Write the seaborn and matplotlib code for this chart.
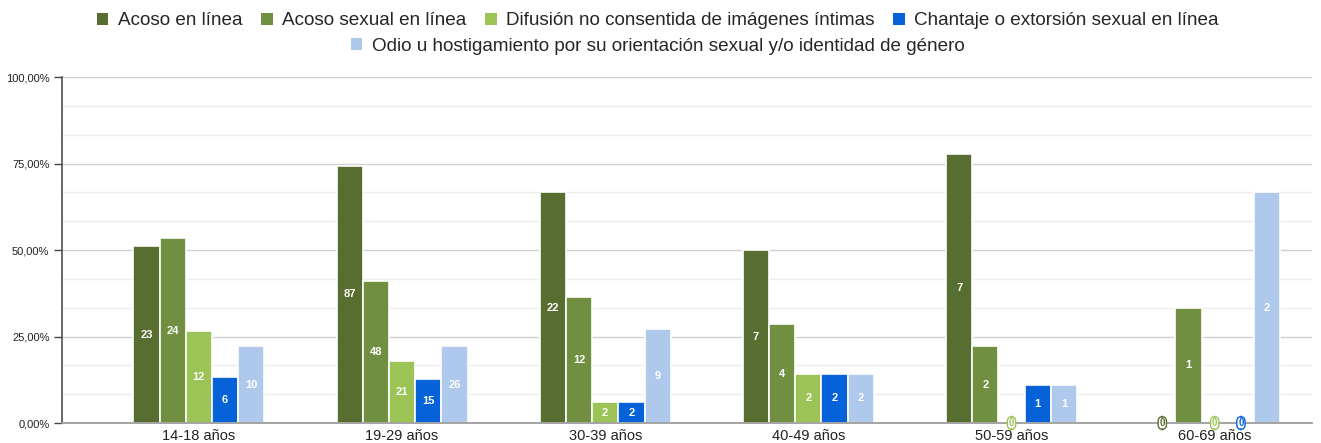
import matplotlib
matplotlib.use("Agg")
import matplotlib.pyplot as plt
from matplotlib.ticker import FuncFormatter, MultipleLocator
from matplotlib.patches import Patch
import pandas as pd
import seaborn as sns

grupos = ["14-18 años", "19-29 años", "30-39 años", "40-49 años", "50-59 años", "60-69 años"]
totales = [45, 117, 33, 14, 9, 3]
tipos = [
    "Acoso en línea",
    "Acoso sexual en línea",
    "Difusión no consentida de imágenes íntimas",
    "Chantaje o extorsión sexual en línea",
    "Odio u hostigamiento por su orientación sexual y/o identidad de género",
]
acoso = [23, 87, 22, 7, 7, 0]
acoso_sexual = [24, 48, 12, 4, 2, 1]
difusion = [12, 21, 2, 2, 0, 0]
chantaje = [6, 15, 2, 2, 1, 0]
odio = [10, 26, 9, 2, 1, 2]
colores = ["#586e31", "#718f40", "#9bc356", "#0562d8", "#aec9eb"]

series = [acoso, acoso_sexual, difusion, chantaje, odio]
rows = []
for tipo, vals in zip(tipos, series):
    for g, n, tot in zip(grupos, vals, totales):
        rows.append({"grupo": g, "tipo": tipo, "n": n, "pct": n / tot})
df = pd.DataFrame(rows)

sns.set_theme(style="white")
plt.rcParams["font.family"] = ["Liberation Sans", "DejaVu Sans"]

fig = plt.figure(figsize=(13.21, 4.43), dpi=100)
ax = fig.add_axes([0.0469, 0.0451, 0.946, 0.781])

sns.barplot(data=df, x="grupo", y="pct", hue="tipo", palette=colores, saturation=1,
            width=0.645, edgecolor="white", linewidth=1.2, legend=False, ax=ax)

# etiquetas de conteo
for cont, tipo, col in zip(ax.containers, tipos, colores):
    for bar, n in zip(cont, df[df.tipo == tipo]["n"]):
        x = bar.get_x() + bar.get_width() / 2
        h = bar.get_height()
        if n == 0:
            ax.text(x, 0, "0", ha="center", va="center", fontsize=7,
                    fontweight="bold", color=col,
                    bbox=dict(boxstyle="round,pad=0.15,rounding_size=0.5",
                              fc="white", ec=col, lw=1))
        else:
            ax.text(x, h / 2, str(n), ha="center", va="center", fontsize=8,
                    fontweight="bold", color="white")

ax.set_ylim(0, 1)
ax.set_xlim(-0.674, 5.477)
ax.yaxis.set_major_locator(MultipleLocator(0.25))
ax.yaxis.set_minor_locator(MultipleLocator(0.25 / 3))
ax.yaxis.set_major_formatter(FuncFormatter(lambda v, _: f"{v * 100:.2f}%".replace(".", ",")))
ax.grid(axis="y", which="major", color="#d0d0d0", lw=1)
ax.grid(axis="y", which="minor", color="#ececec", lw=1)
ax.set_axisbelow(True)
ax.tick_params(axis="y", which="major", length=6, width=1, color="#444444",
               labelsize=8, labelcolor="#222222", pad=3, left=True)
ax.tick_params(axis="y", which="minor", length=0)
ax.tick_params(axis="x", length=0, labelsize=10.5, labelcolor="#222222", pad=4)
ax.set_xlabel("")
ax.set_ylabel("")
for s in ["top", "right"]:
    ax.spines[s].set_visible(False)
ax.spines["left"].set_color("#555555")
ax.spines["bottom"].set_color("#999999")

handles = [Patch(facecolor=c, edgecolor="none") for c in colores]
fig.legend(handles[:4], tipos[:4], ncol=4, loc="center", bbox_to_anchor=(0.498, 0.953),
           frameon=False, fontsize=13.6, handlelength=0.6, handleheight=0.6,
           handletextpad=0.5, columnspacing=1.0, borderpad=0)
fig.legend(handles[4:], tipos[4:], ncol=1, loc="center", bbox_to_anchor=(0.498, 0.896),
           frameon=False, fontsize=13.6, handlelength=0.6, handleheight=0.6,
           handletextpad=0.5, borderpad=0)

fig.savefig("out.png", dpi=100)
